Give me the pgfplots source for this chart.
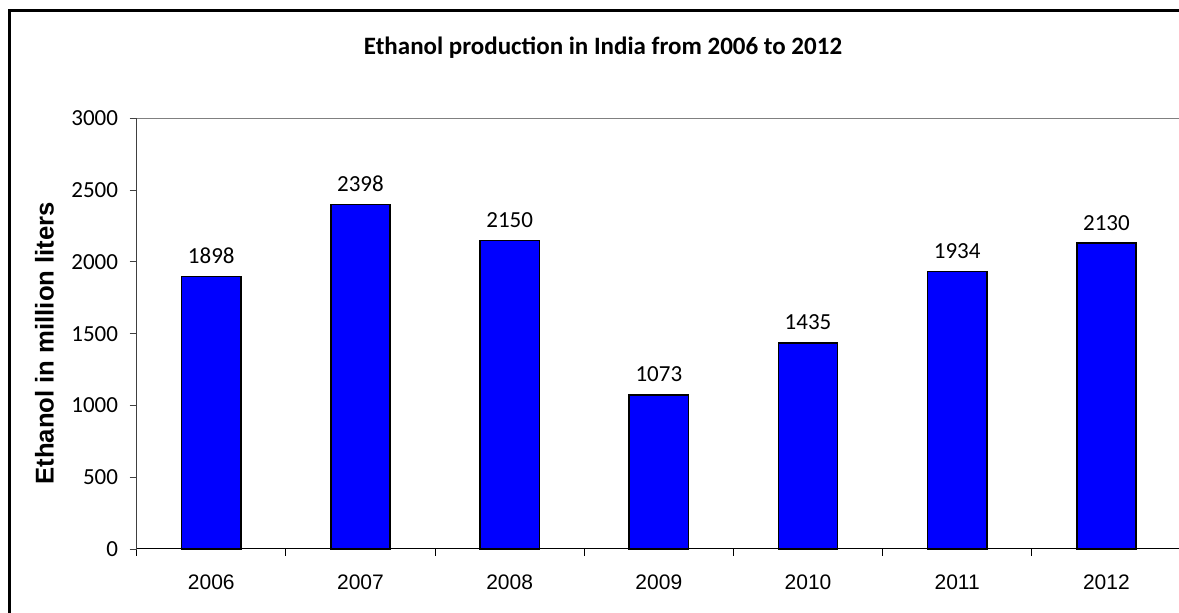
\documentclass[border=0pt]{standalone}
\usepackage{pgfplots}
\pgfplotsset{compat=1.18}
\usepackage{fontspec}
\setmainfont{Carlito}
\newfontfamily\arial{Liberation Sans}
\begin{document}
\begin{tikzpicture}
\useasboundingbox (0,0) rectangle (1179pt,613pt);
\clip (0,0) rectangle (1179pt,613pt);
\draw[line width=3pt, line cap=butt] (9.7pt,0pt) -- (9.7pt,602.3pt);
\draw[line width=3pt, line cap=butt] (8.2pt,602.3pt) -- (1179pt,602.3pt);
\node[font=\bfseries\fontsize{25}{25}\selectfont, anchor=base] at (603pt,558pt) {Ethanol production in India from 2006 to 2012};
\begin{axis}[
  at={(136.7pt,64pt)}, anchor=south west,
  scale only axis, width=1044.4pt, height=430.7pt,
  xmin=-0.5, xmax=6.5, ymin=0, ymax=3000,
  axis x line*=bottom, axis y line*=left,
  x axis line style={black, line width=1pt, -},
  y axis line style={black!75, line width=1pt, -},
  ybar, bar width=59.3pt,
  xtick={0,...,6},
  xticklabels={2006,2007,2008,2009,2010,2011,2012},
  major x tick style={draw=none},
  minor xtick={-0.5,0.5,...,6.5},
  minor x tick style={black, line width=0.8pt},
  ytick={0,500,...,3000},
  y tick style={black!75, line width=0.8pt},
  tick align=outside,
  major tick length=7pt, minor tick length=7pt,
  xticklabel style={font=\arial\fontsize{21}{21}\selectfont, anchor=north, inner sep=0pt, yshift=-19pt},
  yticklabel style={font=\fontsize{23}{23}\selectfont, anchor=east, inner sep=0pt, xshift=-11.5pt},
  /pgf/number format/assume math mode=true,
  /pgf/number format/1000 sep={},
  ylabel={Ethanol in million liters},
  every axis y label/.style={at={(rel axis cs:-0.0883,0.4776)}, anchor=center, rotate=90, font=\arial\bfseries\fontsize{25.7}{25.7}\selectfont},
  nodes near coords,
  every node near coord/.append style={font=\fontsize{23}{23}\selectfont, anchor=base, inner sep=0pt, yshift=13pt, black},
  clip=false,
]
\addplot[fill={rgb,255:red,0;green,0;blue,255}, draw=black, line width=1.5pt] coordinates {
(0,1898) (1,2398) (2,2150) (3,1073) (4,1435) (5,1934) (6,2130)};
\draw[black!50, line width=1.5pt] (rel axis cs:0,1) -- (rel axis cs:1,1);
\end{axis}
\end{tikzpicture}
\end{document}
